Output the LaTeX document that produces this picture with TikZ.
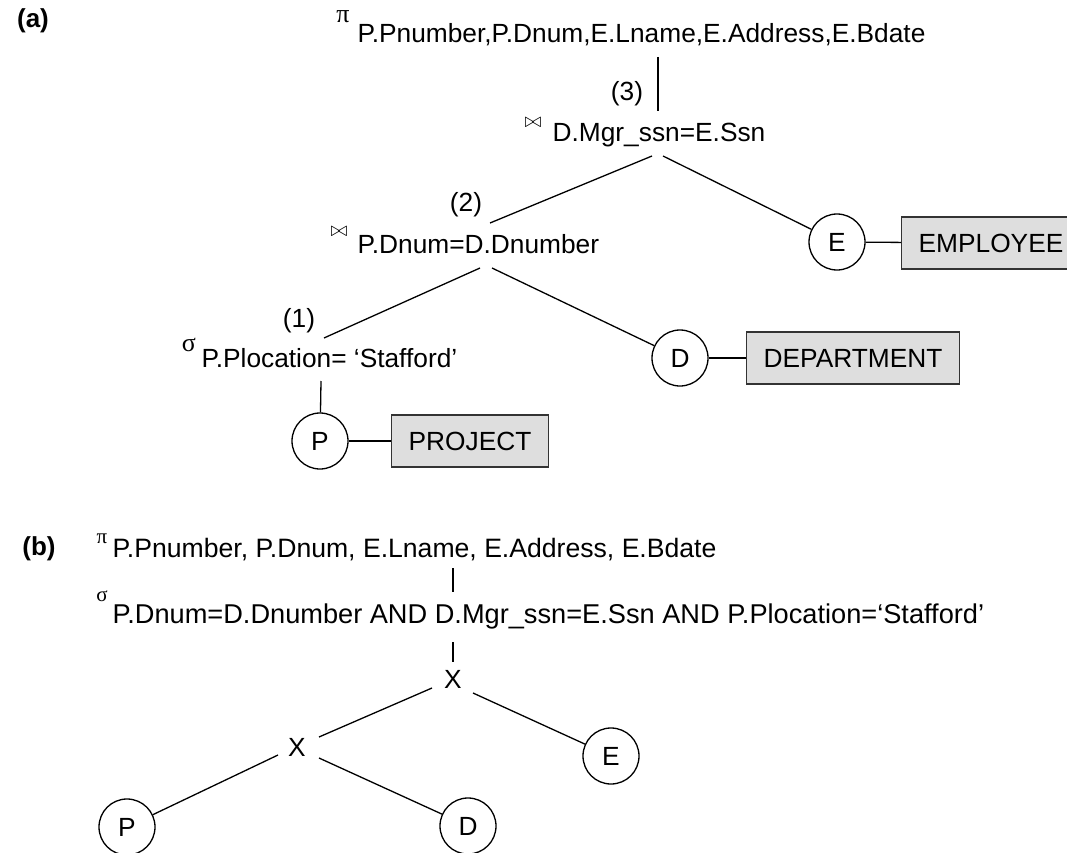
\documentclass[tikz,border=0pt]{standalone}
\usepackage{fontspec}
\setmainfont{Liberation Sans}
\newfontfamily\grkfont{Liberation Serif}
\begin{document}
\begin{tikzpicture}[x=1pt,y=-1pt,line width=1.3pt,
  txt/.style={font=\fontsize{26.3}{30}\selectfont, inner sep=0pt, anchor=base west},
  txtb/.style={font=\fontsize{26.6}{30}\selectfont, inner sep=0pt, anchor=base west},
  lab/.style={font=\fontsize{26}{30}\selectfont\bfseries, inner sep=0pt},
  num/.style={font=\fontsize{26.3}{30}\selectfont, inner sep=0pt},
  opsym/.style={inner sep=0pt, font=\fontsize{26}{26}\grkfont},
  opsymb/.style={inner sep=0pt, font=\fontsize{21}{21}\grkfont},
  btsym/.style={inner sep=0pt, font=\fontsize{21}{21}\selectfont},
  rel/.style={circle, draw, line width=1.3pt, minimum size=56pt, inner sep=0pt, font=\fontsize{26.3}{30}\selectfont},
  tbl/.style={rectangle, draw=black!80, line width=1.3pt, fill=black!13, minimum height=52pt, inner xsep=17pt, inner ysep=0pt, anchor=west, font=\fontsize{26.3}{30}\selectfont},
  conn/.style={line width=1.3pt}]
\useasboundingbox (0,0) rectangle (1067,853);
% ---------------- (a)
\node[lab] (la) at (33,21) {(a)};
\node[opsym] (pi1) at (343,17) {π};
\node[txt] (proj) at (357,43) {P.Pnumber,P.Dnum,E.Lname,E.Address,E.Bdate};
\node[num] (n3) at (627,94) {(3)};
\node[btsym] (bt1) at (533,123) {$\bowtie$};
\node[txt] (j1) at (552,142) {D.Mgr\_ssn=E.Ssn};
\node[num] (n2) at (466,205) {(2)};
\node[btsym] (bt2) at (339,232) {$\bowtie$};
\node[txt] (j2) at (357,253) {P.Dnum=D.Dnumber};
\node[num] (n1) at (299,321) {(1)};
\node[opsym] (sg1) at (189,345) {σ};
\node[txt] (sel) at (201,367) {P.Plocation= ‘Stafford’};
\node[rel] (E1) at (837,242) {E};
\node[tbl] (EMP) at (901,243) {EMPLOYEE};
\node[rel] (D1) at (680,358) {D};
\node[tbl] (DEP) at (746,358) {DEPARTMENT};
\node[rel] (P1) at (320,441) {P};
\node[tbl] (PRJ) at (391,441) {PROJECT};
\coordinate (pa1) at (658,57);
\coordinate (pa2) at (658,111);
\coordinate (j1l) at (652,156);
\coordinate (j2t) at (490,223);
\coordinate (j1r) at (663,156);
\coordinate (j2l) at (480,268);
\coordinate (s1t) at (324,338);
\coordinate (j2r) at (492,268);
\coordinate (s1b) at (321,381);
\draw[conn] (pa1) -- (pa2);
\draw[conn] (j1l) -- (j2t);
\draw[conn] (j1r) -- (E1);
\draw[conn] (E1) -- (EMP);
\draw[conn] (j2l) -- (s1t);
\draw[conn] (j2r) -- (D1);
\draw[conn] (D1) -- (DEP);
\draw[conn] (s1b) -- (P1);
\draw[conn] (P1) -- (PRJ);
% ---------------- (b)
\node[lab] (lb) at (39,549) {(b)};
\node[opsymb] (pi2) at (102,539) {π};
\node[txtb] (projb) at (112,557) {P.Pnumber, P.Dnum, E.Lname, E.Address, E.Bdate};
\node[opsymb] (sg2) at (102,596) {σ};
\node[txtb, font=\fontsize{27.2}{30}\selectfont] (selb) at (112,623) {P.Dnum=D.Dnumber AND D.Mgr\_ssn=E.Ssn AND P.Plocation=‘Stafford’};
\node[num] (x1) at (453,679) {X};
\node[num] (x2) at (297,747) {X};
\node[rel] (E2) at (611,756) {E};
\node[rel] (P2) at (127,827) {P};
\node[rel] (D2) at (468,826) {D};
\coordinate (b1) at (453,568);
\coordinate (b2) at (453,592);
\coordinate (b3) at (453,642);
\coordinate (b4) at (453,662);
\coordinate (x1l) at (432,688);
\coordinate (x2t) at (319,737);
\coordinate (x1r) at (473,693);
\coordinate (x2l) at (278,755);
\coordinate (x2r) at (319,758);
\draw[conn] (b1) -- (b2);
\draw[conn] (b3) -- (b4);
\draw[conn] (x1l) -- (x2t);
\draw[conn] (x1r) -- (E2);
\draw[conn] (x2l) -- (P2);
\draw[conn] (x2r) -- (D2);
\end{tikzpicture}
\end{document}
